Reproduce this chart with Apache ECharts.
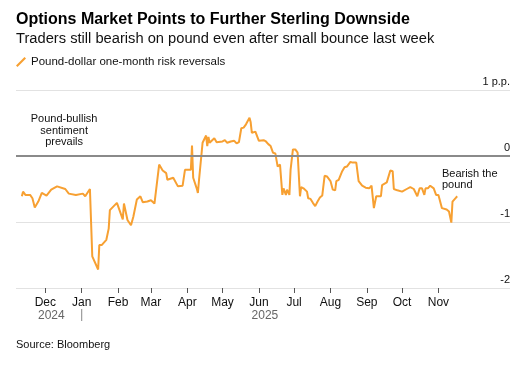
<!DOCTYPE html>
<html><head><meta charset="utf-8">
<script src="https://cdn.jsdelivr.net/npm/echarts@6/dist/echarts.min.js"></script>
<style>html,body{margin:0;padding:0;background:#fff}#c{width:531px;height:366px}</style>
</head><body><div id="c"></div>
<script>
const dates = ['2024-11-11','2024-11-12','2024-11-14','2024-11-18','2024-11-20','2024-11-22','2024-11-25','2024-11-28',
'2024-12-02','2024-12-06','2024-12-11','2024-12-18','2024-12-21','2024-12-27',
'2025-01-02','2025-01-04','2025-01-08','2025-01-10','2025-01-11','2025-01-15','2025-01-16','2025-01-18','2025-01-22','2025-01-24','2025-01-25','2025-01-31',
'2025-02-01','2025-02-05','2025-02-06','2025-02-09','2025-02-12','2025-02-14','2025-02-17','2025-02-20','2025-02-22','2025-02-26',
'2025-03-01','2025-03-04','2025-03-08','2025-03-11','2025-03-14','2025-03-15','2025-03-20','2025-03-24','2025-03-28','2025-03-30',
'2025-04-04','2025-04-05','2025-04-06','2025-04-09','2025-04-10','2025-04-11','2025-04-14','2025-04-17','2025-04-18','2025-04-19','2025-04-20','2025-04-24','2025-04-26',
'2025-05-01','2025-05-03','2025-05-05','2025-05-08','2025-05-09','2025-05-11','2025-05-13','2025-05-15','2025-05-16','2025-05-17','2025-05-19','2025-05-21','2025-05-24','2025-05-25','2025-05-26','2025-05-29',
'2025-06-01','2025-06-05','2025-06-07','2025-06-09','2025-06-11','2025-06-13','2025-06-15','2025-06-17','2025-06-19','2025-06-21','2025-06-22','2025-06-24','2025-06-25','2025-06-27','2025-06-28','2025-06-30',
'2025-07-02','2025-07-04','2025-07-05','2025-07-06','2025-07-07','2025-07-09','2025-07-12','2025-07-13','2025-07-15','2025-07-17','2025-07-19','2025-07-21','2025-07-23','2025-07-25','2025-07-27','2025-07-29',
'2025-08-01','2025-08-03','2025-08-05','2025-08-06','2025-08-08','2025-08-11','2025-08-13','2025-08-15','2025-08-18','2025-08-20','2025-08-23','2025-08-25','2025-08-28','2025-08-31',
'2025-09-03','2025-09-05','2025-09-07','2025-09-09','2025-09-13','2025-09-14','2025-09-18','2025-09-21','2025-09-23','2025-09-24','2025-09-27',
'2025-10-01','2025-10-05','2025-10-08','2025-10-11','2025-10-14','2025-10-16','2025-10-18','2025-10-20','2025-10-21','2025-10-23','2025-10-25','2025-10-28','2025-10-30',
'2025-11-01','2025-11-04','2025-11-08','2025-11-10','2025-11-12','2025-11-13','2025-11-16','2025-11-17'];
const values = [-0.61,-0.54,-0.59,-0.59,-0.64,-0.78,-0.69,-0.56,
-0.60,-0.51,-0.46,-0.50,-0.57,-0.59,
-0.57,-0.61,-0.50,-1.52,-1.53,-1.72,-1.35,-1.35,-1.27,-1.10,-0.82,-0.71,
-0.76,-0.96,-0.72,-0.97,-1.05,-0.92,-0.66,-0.61,-0.70,-0.69,
-0.67,-0.72,-0.13,-0.22,-0.26,-0.36,-0.33,-0.46,-0.45,-0.21,
-0.21,0.16,-0.33,-0.49,-0.56,-0.36,0.20,0.31,0.15,0.29,0.20,0.27,0.21,
0.22,0.24,0.20,0.22,0.20,0.23,0.19,0.21,0.18,0.42,0.43,0.48,0.58,0.51,0.35,0.37,
0.23,0.24,0.22,0.18,0.15,0.05,0.04,-0.16,-0.13,-0.59,-0.49,-0.59,-0.51,-0.59,-0.21,0.10,
0.10,0.05,0.07,-0.61,-0.47,-0.49,-0.54,-0.64,-0.65,-0.71,-0.76,-0.69,-0.63,-0.60,-0.30,-0.31,
-0.38,-0.51,-0.52,-0.38,-0.36,-0.23,-0.17,-0.16,-0.09,-0.10,-0.10,-0.38,-0.45,-0.48,
-0.49,-0.45,-0.79,-0.61,-0.61,-0.44,-0.40,-0.22,-0.23,-0.50,-0.52,
-0.54,-0.50,-0.47,-0.50,-0.61,-0.49,-0.49,-0.59,-0.49,-0.49,-0.45,-0.49,-0.59,
-0.59,-0.79,-0.81,-0.84,-1.01,-0.69,-0.63,-0.61];
const monthTicks = ['2024-12-01','2025-01-01','2025-02-01','2025-03-01','2025-04-01','2025-05-01','2025-06-01','2025-07-01','2025-08-01','2025-09-01','2025-10-01','2025-11-01'];
const monthLabels = ['Dec','Jan','Feb','Mar','Apr','May','Jun','Jul','Aug','Sep','Oct','Nov'];
const yearLabels = [{date:'2024-12-01', text:'2024'}, {date:'2025-06-01', text:'2025'}];
const yTicks = [-2,-1,0,1];

const toTs = s => { const p = s.split('-').map(Number); return Date.UTC(p[0], p[1]-1, p[2]); };
const tickTs = monthTicks.map(toTs);
const labelMap = {}; tickTs.forEach((t,i)=>labelMap[t]=monthLabels[i]);
const FONT = '"Liberation Sans", Arial, Helvetica, sans-serif';
const chart = echarts.init(document.getElementById('c'), null, {renderer:'canvas'});
const option = {
  animation:false,
  backgroundColor:'#fff',
  textStyle:{fontFamily:FONT},
  title:{
    left:11, top:7,
    text:'Options Market Points to Further Sterling Downside',
    subtext:'Traders still bearish on pound even after small bounce last week',
    itemGap:3,
    textStyle:{fontFamily:FONT, fontSize:16, fontWeight:'bold', color:'#000'},
    subtextStyle:{fontFamily:FONT, fontSize:14.7, color:'#111'}
  },
  legend:{
    left:11, top:51, itemWidth:10, itemHeight:10, itemGap:6,
    icon:'path://M0,9 L8,1 L9.4,2.4 L1.4,10.4 Z',
    textStyle:{fontFamily:FONT, fontSize:11.5, color:'#111'},
    data:['Pound-dollar one-month risk reversals']
  },
  grid:{left:16, right:21, top:90, bottom:78, containLabel:false},
  xAxis:{
    type:'value',
    min:toTs('2024-11-06'), max:toTs('2026-01-01'),
    axisLine:{show:false, onZero:false},
    splitLine:{show:false},
    axisTick:{show:true, inside:false, customValues:tickTs, length:5, lineStyle:{color:'#555', width:1}},
    axisLabel:{customValues:tickTs, formatter:v=>labelMap[v]||'', color:'#111', fontSize:12, margin:9, fontFamily:FONT}
  },
  yAxis:{
    type:'value', position:'right', min:-2, max:1, interval:1,
    axisLine:{show:false}, axisTick:{show:false},
    splitLine:{show:true, lineStyle:{color:'#e2e2e2', width:1}},
    axisLabel:{inside:true, margin:0, verticalAlign:'bottom', padding:[0,0,3,0], color:'#111', fontSize:11, fontFamily:FONT,
      formatter:v=> v===1 ? '1 p.p.' : String(v)}
  },
  series:[{
    name:'Pound-dollar one-month risk reversals',
    type:'line', showSymbol:false, symbol:'none',
    data:dates.map((d,i)=>[toTs(d), values[i]]),
    lineStyle:{color:'#f7a032', width:2},
    itemStyle:{color:'#f7a032'},
    markLine:{silent:true, symbol:'none', label:{show:false},
      lineStyle:{color:'#8a8a8a', width:2, type:'solid'},
      data:[{yAxis:0}]}
  }]
};
chart.setOption(option);

const px = (d,v)=>chart.convertToPixel({gridIndex:0},[toTs(d),v]);
const g = [];
yearLabels.forEach(y=>{
  const p = px(y.date, -2);
  g.push({type:'text', x:p[0]+6, y:310, style:{text:y.text, fill:'#666', font:'12px '+FONT, align:'center', verticalAlign:'top'}});
});
const pj = px('2025-01-01',-2);
g.push({type:'rect', shape:{x:pj[0]-0.5, y:309, width:1, height:12}, style:{fill:'#888'}});
const a1 = px('2024-12-17', 0.38);
g.push({type:'text', x:a1[0], y:a1[1], style:{text:'Pound-bullish\nsentiment\nprevails', fill:'#111', font:'11px '+FONT, align:'center', verticalAlign:'middle', lineHeight:11.5}});
const a2 = px('2025-11-04', -0.35);
g.push({type:'text', x:a2[0], y:a2[1], style:{text:'Bearish the\npound', fill:'#111', font:'11px '+FONT, align:'left', verticalAlign:'middle', lineHeight:11}});
g.push({type:'text', left:16, top:339, style:{text:'Source: Bloomberg', fill:'#111', font:'11px '+FONT}});
chart.setOption({graphic:g});
</script></body></html>
